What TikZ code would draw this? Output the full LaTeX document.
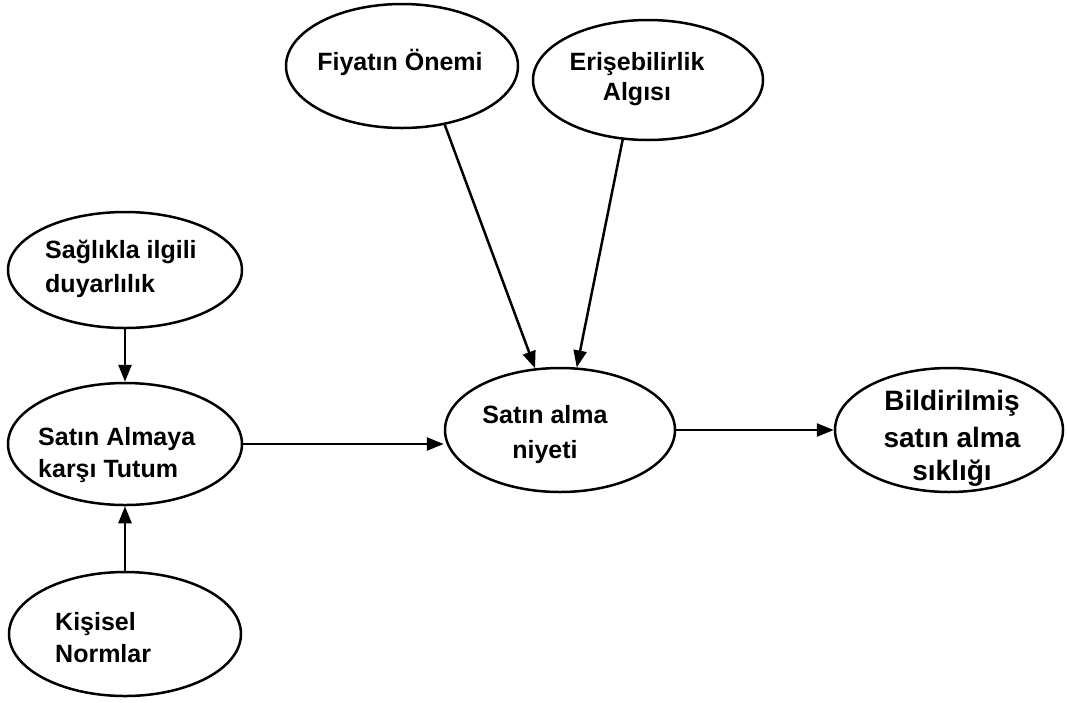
\documentclass[tikz,border=0pt]{standalone}
\usepackage{fontspec}
\setmainfont{Liberation Sans}
\usetikzlibrary{shapes.geometric,arrows.meta}

\begin{document}
\begin{tikzpicture}[x=1pt,y=-1pt,
  oval/.style={ellipse,draw=black,line width=2.5pt,inner sep=0pt,fill=white},
  txt/.style={inner sep=0pt,font=\fontsize{25}{30}\selectfont\bfseries},
  bigtxt/.style={inner sep=0pt,font=\fontsize{28}{33}\selectfont\bfseries},
  link/.style={line width=2.5pt,-{Triangle[length=17pt,width=13pt]}}]

\useasboundingbox[fill=white] (0,0) rectangle (1067,702);

% constructs
\node[oval,minimum width=232pt,minimum height=124pt] (fiyat)  at (402,66)  {};
\node[oval,minimum width=230pt,minimum height=120pt] (eris)   at (648,80)  {};
\node[oval,minimum width=234pt,minimum height=116pt] (saglik) at (125,270) {};
\node[oval,minimum width=234pt,minimum height=122pt] (tutum)  at (125,444) {};
\node[oval,minimum width=232pt,minimum height=124pt] (normlar) at (125,634) {};
\node[oval,minimum width=230pt,minimum height=124pt] (niyet)  at (560,430) {};
\node[oval,minimum width=228pt,minimum height=124pt] (bildir) at (949,430) {};

% labels
\node[txt,anchor=base] (tfiyat) at (400,70) {Fiyatın Önemi};
\node[txt,anchor=base] (teris1) at (637,70) {Erişebilirlik};
\node[txt,anchor=base] (teris2) at (637,100) {Algısı};
\node[txt,anchor=base west] (tsaglik1) at (45,258) {Sağlıkla ilgili};
\node[txt,anchor=base west] (tsaglik2) at (45,292) {duyarlılık};
\node[txt,anchor=base west] (ttutum1) at (38,445) {Satın Almaya};
\node[txt,anchor=base west] (ttutum2) at (38,477) {karşı Tutum};
\node[txt,anchor=base west] (tnorm1) at (55,630) {Kişisel};
\node[txt,anchor=base west] (tnorm2) at (55,662) {Normlar};
\node[txt,anchor=base] (tniyet1) at (545,423) {Satın alma};
\node[txt,anchor=base] (tniyet2) at (545,458) {niyeti};
\node[bigtxt,anchor=base] (tbildir1) at (952,410) {Bildirilmiş};
\node[bigtxt,anchor=base] (tbildir2) at (952,447) {satın alma};
\node[bigtxt,anchor=base] (tbildir3) at (952,480) {sıklığı};

% paths
\draw[link] (fiyat.-54) -- (niyet.112);
\draw[link] (eris.-113) -- (niyet.75);
\draw[link] (saglik.south) -- (tutum.north);
\draw[link] (normlar.north) -- (tutum.south);
\draw[link] (tutum.east) -- (tutum.east -| niyet.west);
\draw[link] (niyet.east) -- (bildir.west);
\end{tikzpicture}
\end{document}
